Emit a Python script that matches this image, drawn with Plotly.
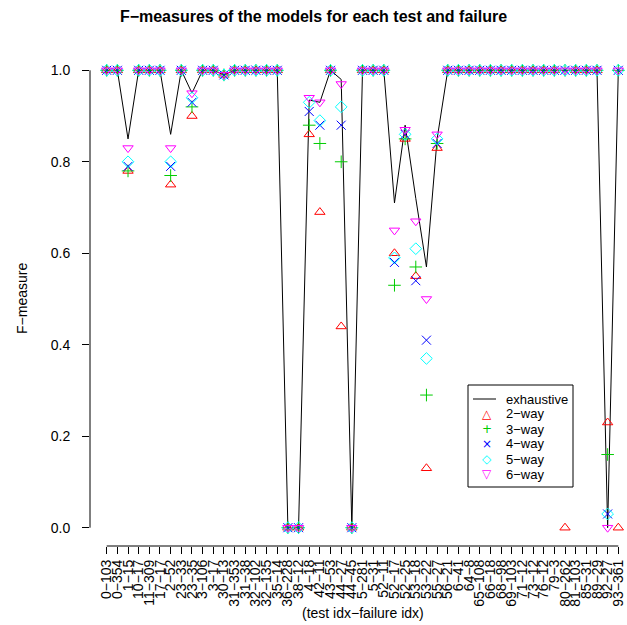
import plotly.graph_objects as go

# test/failure combinations (category labels on the x axis)
test_failure = [
    "0-103", "0-354", "1-15", "10-17", "11-309", "17-17", "2-52", "23-33",
    "23-35", "3-106", "3-17", "30-13", "31-353", "31-38", "32-102", "32-135",
    "35-14", "36-228", "38-12", "4-18", "42-11", "43-53", "44-27", "44-45",
    "5-281", "5-31", "52-11", "52-17", "52-25", "53-18", "53-22", "55-27",
    "56-21", "6-41", "64-8", "65-108", "66-18", "68-98", "69-103", "71-12",
    "73-12", "76-12", "79-3", "80-262", "81-103", "85-31", "89-29", "92-27",
    "93-361",
]

# F-measure of each model per test/failure
exhaustive = [
    1, 1, 0.85, 1, 1, 1, 0.86, 1, 0.95, 1, 1, 0.99, 1, 1, 1, 1, 1, 0, 0,
    0.935, 0.93, 1, 0.98, 0, 1, 1, 1, 0.71, 0.88, 0.72, 0.57, 0.85,
    1, 1, 1, 1, 1, 1, 1, 1, 1, 1, 1, 1, 1, 1, 1, 0.0, 1,
]
way2 = [
    1, 1, 0.78, 1, 1, 1, 0.75, 1, 0.90, 1, 1, 0.99, 1, 1, 1, 1, 1, 0, 0,
    0.86, 0.69, 1, 0.44, 0, 1, 1, 1, 0.60, 0.85, 0.55, 0.13, 0.83,
    1, 1, 1, 1, 1, 1, 1, 1, 1, 1, 1, 0, 1, 1, 1, 0.23, 0,
]
way3 = [
    1, 1, 0.78, 1, 1, 1, 0.77, 1, 0.92, 1, 1, 0.99, 1, 1, 1, 1, 1, 0, 0,
    0.88, 0.84, 1, 0.80, 0, 1, 1, 1, 0.53, 0.85, 0.57, 0.29, 0.84,
    1, 1, 1, 1, 1, 1, 1, 1, 1, 1, 1, 1, 1, 1, 1, 0.16, 1,
]
way4 = [
    1, 1, 0.79, 1, 1, 1, 0.79, 1, 0.93, 1, 1, 0.99, 1, 1, 1, 1, 1, 0, 0,
    0.91, 0.88, 1, 0.88, 0, 1, 1, 1, 0.58, 0.86, 0.54, 0.41, 0.84,
    1, 1, 1, 1, 1, 1, 1, 1, 1, 1, 1, 1, 1, 1, 1, 0.03, 1,
]
way5 = [
    1, 1, 0.80, 1, 1, 1, 0.80, 1, 0.94, 1, 1, 0.99, 1, 1, 1, 1, 1, 0, 0,
    0.93, 0.89, 1, 0.92, 0, 1, 1, 1, 0.59, 0.86, 0.61, 0.37, 0.85,
    1, 1, 1, 1, 1, 1, 1, 1, 1, 1, 1, 1, 1, 1, 1, 0.03, 1,
]
way6 = [
    1, 1, 0.83, 1, 1, 1, 0.83, 1, 0.95, 1, 1, 0.99, 1, 1, 1, 1, 1, 0, 0,
    0.94, 0.93, 1, 0.97, 0, 1, 1, 1, 0.65, 0.87, 0.67, 0.50, 0.86,
    1, 1, 1, 1, 1, 1, 1, 1, 1, 1, 1, 1, 1, 1, 1, 0.0, 1,
]

y_ticks = [0.0, 0.2, 0.4, 0.6, 0.8, 1.0]

series = [
    ("2\u2212way", way2, "triangle-up-open", "#FF0000", "\u25B3"),
    ("3\u2212way", way3, "cross-thin-open", "#00CD00", "+"),
    ("4\u2212way", way4, "x-thin-open", "#0000FF", "\u00D7"),
    ("5\u2212way", way5, "diamond-open", "#00FFFF", "\u25C7"),
    ("6\u2212way", way6, "triangle-down-open", "#FF00FF", "\u25BD"),
]

FONT = "Liberation Sans, Arial, Helvetica, sans-serif"
W, H = 627, 625
ML, MR, MT, MB = 90, 0, 52, 79
PW, PH = W - ML - MR, H - MT - MB


def xp(px):
    return (px - ML) / PW


def yp(py):
    return (H - MB - py) / PH


labels = [s.replace("-", "\u2212") for s in test_failure]

fig = go.Figure()
fig.add_trace(go.Scatter(
    x=labels, y=exhaustive, mode="lines", name="exhaustive",
    line=dict(color="black", width=1), showlegend=False, cliponaxis=False,
))
for name, vals, sym, col, _ in series:
    fig.add_trace(go.Scatter(
        x=labels, y=vals, mode="markers", name=name, showlegend=False,
        cliponaxis=False,
        marker=dict(symbol=sym, size=9, color=col, line=dict(color=col, width=1)),
    ))

# legend layout (pixel rows of the key entries)
LEG_TOP, LEG_STEP = 399, 15
LEG_FONT = 13

shapes = [
    # y axis line spanning the tick range
    dict(type="line", xref="paper", yref="y", x0=0, x1=0, y0=0, y1=1,
         line=dict(color="black", width=1)),
    # x axis line from first to last category
    dict(type="line", xref="x", yref="paper", x0=0, x1=len(labels) - 1, y0=0, y1=0,
         line=dict(color="black", width=1)),
    # legend frame
    dict(type="rect", xref="paper", yref="paper", x0=xp(468), x1=xp(573),
         y0=yp(LEG_TOP + 5 * LEG_STEP + 13), y1=yp(385),
         line=dict(color="black", width=1), fillcolor="white", layer="below"),
    # legend key for the exhaustive line
    dict(type="line", xref="paper", yref="paper", x0=xp(473), x1=xp(496),
         y0=yp(LEG_TOP), y1=yp(LEG_TOP), line=dict(color="black", width=1)),
]

annotations = [
    dict(text="F\u2212measure", xref="paper", yref="y", x=0, y=0.5,
         xshift=-68, xanchor="center", yanchor="middle", textangle=-90,
         showarrow=False, font=dict(family=FONT, size=14, color="black")),
    dict(text="(test idx\u2212failure idx)", xref="x", yref="paper",
         x=(len(labels) - 1) / 2, y=0, yshift=-67, yanchor="middle",
         showarrow=False, font=dict(family=FONT, size=14, color="black")),
    dict(text="exhaustive", xref="paper", yref="paper", x=xp(504), y=yp(LEG_TOP),
         xanchor="left", yanchor="middle", showarrow=False,
         font=dict(family=FONT, size=LEG_FONT, color="black")),
]
for k, (name, _, _, col, glyph) in enumerate(series):
    ypix = LEG_TOP + LEG_STEP * (k + 1)
    annotations.append(dict(
        text=glyph, xref="paper", yref="paper", x=xp(486.5), y=yp(ypix),
        xanchor="center", yanchor="middle", showarrow=False,
        font=dict(family="DejaVu Sans", size=12, color=col)))
    annotations.append(dict(
        text=name, xref="paper", yref="paper", x=xp(504), y=yp(ypix),
        xanchor="left", yanchor="middle", showarrow=False,
        font=dict(family=FONT, size=LEG_FONT, color="black")))

fig.update_layout(
    width=W, height=H,
    margin=dict(l=ML, r=MR, t=MT, b=MB),
    paper_bgcolor="white", plot_bgcolor="white",
    font=dict(family=FONT, size=14, color="black"),
    title=dict(text="<b>F\u2212measures of the models for each test and failure</b>",
               x=0.5, xref="container", xanchor="center",
               y=1 - 16 / H, yref="container", yanchor="middle",
               font=dict(family=FONT, size=16, color="black")),
    xaxis=dict(
        type="category", range=[-1.567, len(labels) - 1 + 0.816],
        tickmode="linear", tick0=0, dtick=1, tickangle=-90,
        ticks="outside", ticklen=7, tickcolor="black", tickwidth=1,
        showgrid=False, zeroline=False, showline=False,
        tickfont=dict(family=FONT, size=14, color="black"),
    ),
    yaxis=dict(
        range=[-0.04, 1.04], tickmode="array", tickvals=y_ticks,
        ticktext=[f"{v:.1f}" for v in y_ticks],
        ticks="outside", ticklen=7, tickcolor="black", tickwidth=1,
        showgrid=False, zeroline=False, showline=False,
        tickfont=dict(family=FONT, size=14, color="black"),
        ticklabelstandoff=9,
    ),
    shapes=shapes,
    annotations=annotations,
    showlegend=False,
)

fig.write_html("out.html")
